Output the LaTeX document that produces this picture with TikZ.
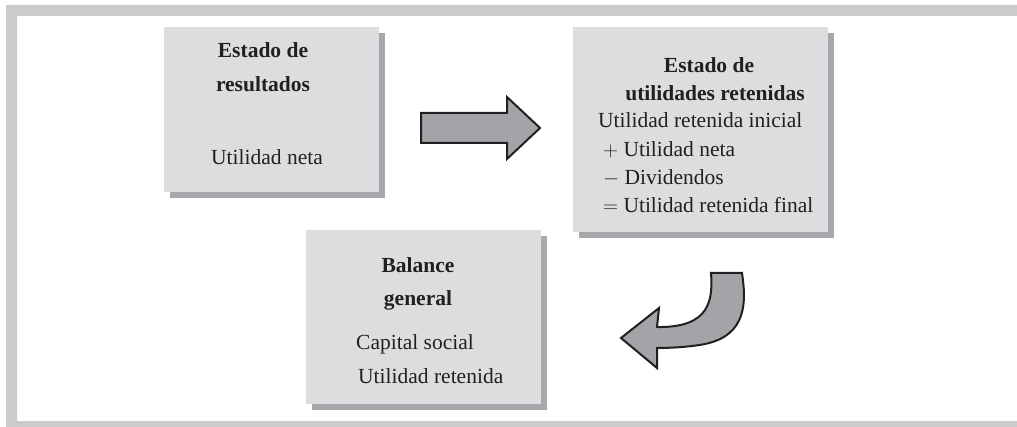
\documentclass[tikz,border=0pt]{standalone}
\usepackage{fontspec}
\setmainfont{Liberation Serif}
\usetikzlibrary{shadows}

\definecolor{framegray}{HTML}{CBCBCB}
\definecolor{boxgray}{HTML}{DCDDDF}
\definecolor{shadowgray}{HTML}{A7A8AB}
\definecolor{arrowgray}{HTML}{A3A4A7}
\definecolor{inkblack}{HTML}{231F20}

\begin{document}
\begin{tikzpicture}[x=1pt, y=-1pt,
  statement/.style={fill=boxgray, draw=none, inner sep=0pt,
    drop shadow={shadow xshift=6pt, shadow yshift=-6pt, fill=shadowgray, opacity=1}},
  heading/.style={font=\fontsize{21.5}{26}\selectfont\bfseries, text=inkblack, anchor=base, inner sep=0pt},
  entry/.style={font=\fontsize{21.5}{26}\selectfont, text=inkblack, anchor=base west, inner sep=0pt},
  blockarrow/.style={fill=arrowgray, draw=inkblack, line width=2pt, line join=miter}]

\useasboundingbox (0,0) rectangle (1017,427);

% --- open frame ---
\fill[framegray] (6,5) -- (1017,5) -- (1017,16) -- (17,16) -- (17,421)
  -- (1017,421) -- (1017,427) -- (6,427) -- cycle;

% --- Estado de resultados ---
\node[statement, minimum width=215, minimum height=165] (resultados) at (271.5,109.5) {};
\node[heading] (resultadosA) at (263,58) {Estado de};
\node[heading] (resultadosB) at (263,92) {resultados};
\node[entry, anchor=base] (netaA) at (267,165) {Utilidad neta};

% --- Estado de utilidades retenidas ---
\node[statement, minimum width=255, minimum height=205] (retenidas) at (700.5,129.5) {};
\node[heading] (retenidasA) at (709,73) {Estado de};
\node[heading] (retenidasB) at (715,101) {utilidades retenidas};
\node[entry] (inicial) at (598,128) {Utilidad retenida inicial};
\node[entry] (netaB) at (603,157) {$+$ Utilidad neta};
\node[entry] (dividendos) at (603,185) {$-$ Dividendos};
\node[entry] (final) at (603,213) {$=$ Utilidad retenida final};

% --- Balance general ---
\node[statement, minimum width=235, minimum height=174] (balance) at (423.5,317) {};
\node[heading] (balanceA) at (418,273) {Balance};
\node[heading] (balanceB) at (418,306) {general};
\node[entry] (capital) at (356,350) {Capital social};
\node[entry] (retenida) at (358,383) {Utilidad retenida};

% straight block arrow
\draw[blockarrow] (421,113) -- (507,113) -- (507,97) -- (540,128)
  -- (507,159) -- (507,143) -- (421,143) -- cycle;

% curved block arrow
\draw[blockarrow] (711,273) -- (742,273)
  .. controls (746,300) and (748,335) .. (705,344)
  .. controls (690,347) and (670,348) .. (657,348)
  -- (657,368) -- (621,338) -- (659,308) -- (657,327)
  .. controls (710,328) and (713,300) .. (711,273) -- cycle;

\end{tikzpicture}
\end{document}
